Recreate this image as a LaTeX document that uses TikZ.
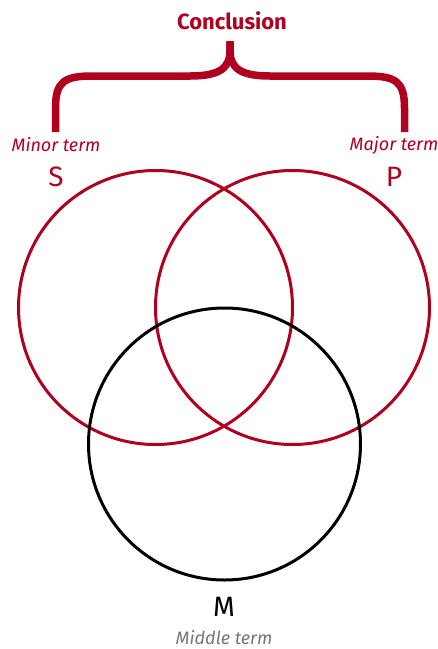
\documentclass[tikz,border=0pt]{standalone}
\usepackage{fontspec}
\setmainfont{Fira Sans}
\definecolor{termred}{RGB}{176,0,32}
\definecolor{termgrey}{RGB}{118,118,118}
\begin{document}
\begin{tikzpicture}[x=1pt,y=-1pt,
  venn/.style={line width=3pt},
  bracestyle/.style={draw=termred,line width=7.5pt,line cap=butt,line join=round},
  letter/.style={font=\fontsize{28}{28}\selectfont},
  termlabel/.style={font=\fontsize{18}{18}\selectfont\itshape,inner sep=1pt}]
\useasboundingbox (0,0) rectangle (438,649);
% circles
\draw[venn,draw=termred] (155.5,307.5) circle (137);
\draw[venn,draw=termred] (292.5,307.5) circle (137);
\draw[venn,draw=black] (224.5,444) circle (136);
% brace
\coordinate (bl) at (55.5,132);
\coordinate (br) at (404.5,132);
\coordinate (bt) at (230,41);
\draw[bracestyle] (bl) -- (55.5,108) .. controls (55.5,82) and (64,76) .. (92,76) -- (190,76)
  .. controls (220,76) and (230,68) .. (230,50) -- (bt);
\draw[bracestyle] (br) -- (404.5,108) .. controls (404.5,82) and (396,76) .. (368,76) -- (270,76)
  .. controls (240,76) and (230,68) .. (230,50) -- (bt);
% labels
\node[text=termred,font=\fontsize{22}{22}\selectfont\bfseries] (concl) at (232,21) {Conclusion};
\node[termlabel,text=termred] (minor) at (56,145) {Minor term};
\node[termlabel,text=termred] (major) at (394,145) {Major term};
\node[letter,text=termred] (S) at (56,177) {S};
\node[letter,text=termred] (P) at (394,177) {P};
\node[letter,text=black] (M) at (224,607) {M};
\node[termlabel,text=termgrey] (middle) at (224,637.5) {Middle term};
\end{tikzpicture}
\end{document}
